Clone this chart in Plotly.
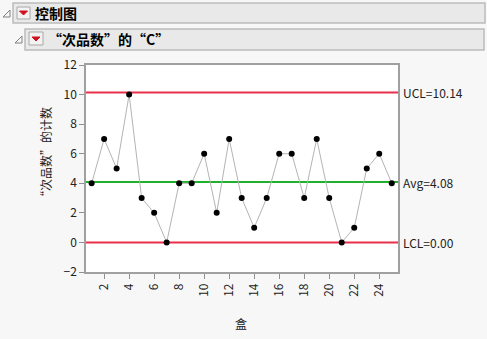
import plotly.graph_objects as go

boxes = list(range(1, 26))
counts = [4, 7, 5, 10, 3, 2, 0, 4, 4, 6, 2, 7, 3, 1, 3, 6, 6, 3, 7, 3, 0, 1, 5, 6, 4]
ucl, avg, lcl = 10.14, 4.08, 0.00
limit_labels = ["UCL=10.14", "Avg=4.08", "LCL=0.00"]
y_ticks = list(range(-2, 13, 2))
x_ticks = list(range(2, 25, 2))

W, H = 487, 339
L, R, T, B = 86, 398, 65, 272
FONT = "Noto Sans CJK SC"

def px(x):
    return (x - L) / (R - L)

def py(y):
    return (B - y) / (B - T)

fig = go.Figure()
xr = [0.55, 25.5]
for val, col in [(ucl, "#e8304a"), (lcl, "#e8304a"), (avg, "#21b02b")]:
    fig.add_trace(go.Scatter(x=xr, y=[val, val], mode="lines",
                             line=dict(color=col, width=2), hoverinfo="skip", showlegend=False))
fig.add_trace(go.Scatter(x=boxes, y=counts, mode="lines+markers",
                         line=dict(color="#b4b4b4", width=1),
                         marker=dict(color="black", size=6), showlegend=False))

shapes = []
annotations = []

def rect(x0, y0, x1, y1, fill, line, lw=1):
    shapes.append(dict(type="rect", xref="paper", yref="paper",
                       x0=px(x0), x1=px(x1), y0=py(y1), y1=py(y0),
                       fillcolor=fill, line=dict(color=line, width=lw), layer="below"))

def path(points, fill, line):
    d = "M " + " L ".join(f"{px(a)},{py(b)}" for a, b in points) + " Z"
    shapes.append(dict(type="path", xref="paper", yref="paper", path=d,
                       fillcolor=fill, line=dict(color=line, width=1)))

# header 1
rect(13, 3, 485, 23, "#e9e9e9", "#bcbcbc", 1.5)
path([(3, 17), (10, 10), (10, 17)], "rgba(0,0,0,0)", "#808080")
rect(17, 7, 30, 19, "#f2f2f2", "#a8a8a8")
path([(19.5, 11), (27.5, 11), (23.5, 15)], "#d01020", "#d01020")
annotations.append(dict(text="<b>控制图</b>", xref="paper", yref="paper", x=px(33), y=py(13),
                        xanchor="left", yanchor="middle", showarrow=False,
                        font=dict(family=FONT, size=14, color="black")))
# header 2
rect(25, 29, 484, 50, "#e9e9e9", "#bcbcbc", 1.5)
path([(15, 43), (22, 36), (22, 43)], "rgba(0,0,0,0)", "#808080")
rect(29, 32, 43, 45, "#f2f2f2", "#a8a8a8")
path([(32, 37), (40, 37), (36, 41)], "#d01020", "#d01020")
annotations.append(dict(text="<b>“次品数”的“C”</b>", xref="paper", yref="paper", x=px(46), y=py(39),
                        xanchor="left", yanchor="middle", showarrow=False,
                        font=dict(family=FONT, size=14, color="black")))

for lab, val in zip(limit_labels, [ucl, avg, lcl]):
    annotations.append(dict(text=lab, xref="paper", yref="y", x=1.0, y=val, xshift=3,
                            xanchor="left", yanchor="middle", showarrow=False,
                            font=dict(family=FONT, size=12, color="#222222")))

annotations.append(dict(text="“次品数”的计数", xref="paper", yref="paper", x=px(45), y=py(155),
                        textangle=-90, xanchor="center", yanchor="middle", showarrow=False,
                        font=dict(family=FONT, size=12, color="#222222")))
annotations.append(dict(text="盒", xref="paper", yref="paper", x=px(241), y=py(323),
                        xanchor="center", yanchor="middle", showarrow=False,
                        font=dict(family=FONT, size=12, color="#222222")))

fig.update_layout(
    width=W, height=H,
    margin=dict(l=L, r=W - R, t=T, b=H - B, pad=0),
    paper_bgcolor="#f7f7f7", plot_bgcolor="white",
    shapes=shapes, annotations=annotations,
    font=dict(family=FONT, size=12, color="#222222"),
    xaxis=dict(range=xr, tickvals=x_ticks, tickangle=-90, ticks="outside", ticklen=5,
               tickcolor="#909090", showgrid=False, zeroline=False, showline=True,
               linecolor="#a0a0a0", linewidth=1.5, mirror=True,
               tickfont=dict(family=FONT, size=12, color="#222222")),
    yaxis=dict(range=[-2, 12], tickvals=y_ticks, ticks="outside", ticklen=5,
               tickcolor="#909090", showgrid=False, zeroline=False, showline=True,
               linecolor="#a0a0a0", linewidth=1.5, mirror=True,
               tickfont=dict(family=FONT, size=12, color="#222222")),
)

fig.write_html("out.html")
